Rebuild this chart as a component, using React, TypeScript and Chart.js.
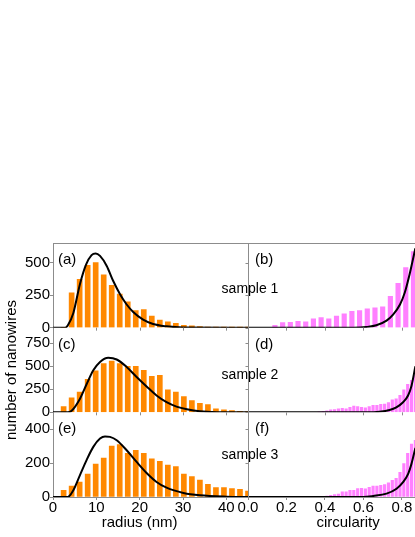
import React, { useEffect, useRef } from 'react';
import { Chart, registerables } from 'chart.js';

Chart.register(...registerables);

// ---------- data ----------
const radiusBins = [2.45, 4.3, 6.15, 8.0, 9.85, 11.7, 13.55, 15.4, 17.25, 19.1, 20.95, 22.8, 24.65, 26.5, 28.35, 30.2, 32.05, 33.9, 35.75, 37.6, 39.45, 41.3, 43.15, 45.0];
const radiusCounts1 = [0, 268, 371, 479, 500, 405, 325, 258, 198, 131, 139, 88, 59, 44, 33, 18, 15, 8, 5, 3, 2, 2, 1, 1];
const radiusCounts2 = [62, 157, 219, 358, 450, 530, 556, 530, 500, 500, 457, 391, 402, 245, 219, 172, 128, 99, 84, 37, 26, 18, 12, 8];
const radiusCounts3 = [40, 65, 88, 135, 195, 230, 300, 310, 258, 275, 258, 225, 210, 188, 180, 135, 120, 100, 75, 55, 55, 50, 45, 35];

const circBins1 = [0.14, 0.18, 0.22, 0.26, 0.3, 0.34, 0.38, 0.42, 0.46, 0.5, 0.54, 0.58, 0.62, 0.66, 0.7, 0.74, 0.78, 0.82, 0.86];
const circCounts1 = [18, 39, 41, 49, 44, 67, 77, 67, 88, 106, 126, 131, 144, 152, 160, 240, 340, 461, 585];

const circBins23 = [0.37, 0.39, 0.41, 0.43, 0.45, 0.47, 0.49, 0.51, 0.53, 0.55, 0.57, 0.59, 0.61, 0.63, 0.65, 0.67, 0.69, 0.71, 0.73, 0.75, 0.77, 0.79, 0.81, 0.83, 0.85, 0.87];
const circCounts2 = [5, 10, 15, 26, 29, 37, 44, 37, 55, 69, 62, 55, 48, 62, 77, 77, 88, 91, 106, 135, 146, 186, 245, 303, 347, 400];
const circCounts3 = [2, 4, 6, 10, 14, 17, 30, 30, 39, 39, 49, 51, 48, 57, 64, 64, 69, 73, 84, 98, 110, 145, 197, 258, 312, 335];

const fitRadius1X = [0, 2.8, 3.5, 4.7, 6.2, 7.6, 8.9, 9.85, 10.85, 12.4, 13.9, 15.5, 17.0, 18.5, 20.8, 23.1, 26.2, 30, 45];
const fitRadius1Y = [0, 0, 23, 113, 332, 482, 557, 570, 551, 474, 358, 255, 178, 121, 62, 28, 10, 1, 0];
const fitRadius2X = [0, 3.4, 4.3, 6.2, 7.8, 9.3, 10.85, 12.75, 14.7, 17.0, 19.3, 21.6, 23.9, 26.2, 28.5, 30.9, 33.9, 37.8, 45];
const fitRadius2Y = [0, 0, 18, 146, 311, 457, 548, 592, 574, 493, 384, 281, 183, 110, 62, 33, 11, 2, 0];
const fitRadius3X = [0, 3.4, 4.7, 6.2, 7.8, 9.3, 10.85, 12.0, 13.15, 14.7, 17.0, 19.3, 21.6, 23.9, 26.2, 30.1, 33.9, 40.1, 45];
const fitRadius3Y = [0, 0, 40, 128, 221, 296, 345, 358, 355, 335, 276, 207, 142, 89, 55, 24, 10, 2, 0];

const fitCirc1X = [0, 0.55, 0.614, 0.667, 0.72, 0.754, 0.79, 0.815, 0.84, 0.87];
const fitCirc1Y = [0, 0, 5, 18, 54, 100, 178, 270, 410, 610];
const fitCirc2X = [0, 0.62, 0.684, 0.736, 0.771, 0.806, 0.832, 0.85, 0.87];
const fitCirc2Y = [0, 0, 7, 26, 55, 110, 183, 290, 500];
const fitCirc3X = [0, 0.6, 0.651, 0.72, 0.772, 0.807, 0.833, 0.85, 0.87];
const fitCirc3Y = [0, 0, 6, 20, 49, 89, 138, 197, 290];

const panelLabels = ['(a)', '(b)', '(c)', '(d)', '(e)', '(f)'];
const sampleLabels = ['sample 1', 'sample 2', 'sample 3'];
const xTitles = ['radius (nm)', 'circularity'];
const yTitle = 'number of nanowires';

// ---------- styles ----------
const AXIS = '#8c8c8c';
const ORANGE = '#ff8800';
const PINK = '#ff80ff';
const FONT = "'Liberation Sans', Arial, sans-serif";

const pts = (xs: number[], ys: number[]) => xs.map((x, i) => ({ x, y: ys[i] }));

const bars = (xs: number[], ys: number[], xAxisID: string, yAxisID: string, color: string, thickness: number) => ({
  type: 'bar' as const,
  data: pts(xs, ys),
  xAxisID,
  yAxisID,
  backgroundColor: color,
  borderWidth: 0,
  barThickness: thickness,
  grouped: false,
  order: 2,
});

const curve = (xs: number[], ys: number[], xAxisID: string, yAxisID: string) => ({
  type: 'line' as const,
  data: pts(xs, ys),
  xAxisID,
  yAxisID,
  borderColor: '#000',
  borderWidth: 2,
  pointRadius: 0,
  fill: false,
  cubicInterpolationMode: 'monotone' as const,
  order: 1,
});

const zeroPadding = (s: any) => {
  s.paddingLeft = 0;
  s.paddingRight = 0;
  s.paddingTop = 0;
  s.paddingBottom = 0;
};

const yScale = (max: number, step: number, weight: number, title?: string) => ({
  type: 'linear' as const,
  position: 'left' as const,
  stack: 'rows',
  stackWeight: 1,
  weight,
  offset: false,
  min: 0,
  max,
  ticks: {
    stepSize: step,
    includeBounds: false,
    autoSkip: false,
    color: '#000',
    padding: 0,
    font: { family: FONT, size: 15, lineHeight: 1 },
  },
  grid: { drawOnChartArea: false, drawTicks: true, tickLength: 3, color: AXIS, offset: false },
  border: { display: true, color: AXIS },
  title: {
    display: !!title,
    text: title || '',
    color: '#000',
    font: { family: FONT, size: 15 },
    padding: { top: 3, bottom: 0 },
  },
  afterFit: (s: any) => {
    s.width = 53;
    zeroPadding(s);
  },
});

const xScale = (max: number, step: number, weight: number, fmt?: (v: number) => string) => ({
  type: 'linear' as const,
  position: 'bottom' as const,
  stack: 'cols',
  stackWeight: weight,
  offset: false,
  min: 0,
  max,
  ticks: {
    stepSize: step,
    includeBounds: false,
    autoSkip: false,
    maxRotation: 0,
    color: '#000',
    padding: 0,
    font: { family: FONT, size: 15, lineHeight: 1 },
    callback: fmt ? (v: any) => fmt(Number(v)) : (v: any) => String(v),
  },
  grid: { drawOnChartArea: false, drawTicks: true, tickLength: 3, color: AXIS, offset: false },
  border: { display: true, color: AXIS },
  afterFit: (s: any) => {
    s.height = 40;
    zeroPadding(s);
  },
});

const framePlugin = {
  id: 'frame',
  afterDatasetsDraw(chart: any) {
    const { ctx, chartArea, scales } = chart;
    const xl = scales.xl;
    const xr = scales.xr;
    const rows = [scales.y1, scales.y2, scales.y3];
    ctx.save();
    ctx.strokeStyle = AXIS;
    ctx.lineWidth = 1;
    ctx.beginPath();
    const ty = Math.round(chartArea.top) + 0.5;
    ctx.moveTo(chartArea.left, ty);
    ctx.lineTo(chartArea.right, ty);
    const dx = Math.round(xr.left) + 0.5;
    ctx.moveTo(dx, chartArea.top);
    ctx.lineTo(dx, chartArea.bottom);
    rows.forEach((ys: any) => {
      ys.ticks.forEach((t: any) => {
        const y = Math.round(ys.getPixelForValue(t.value)) + 0.5;
        ctx.moveTo(dx - 3, y);
        ctx.lineTo(dx, y);
      });
    });
    [scales.y1, scales.y2].forEach((ys: any) => {
      const yb = ys.bottom;
      [xl, xr].forEach((xs: any) => {
        xs.ticks.forEach((t: any) => {
          const x = Math.round(xs.getPixelForValue(t.value)) + 0.5;
          ctx.moveTo(x, yb);
          ctx.lineTo(x, yb + 3);
        });
      });
    });
    ctx.stroke();
    ctx.restore();
  },
  afterDraw(chart: any) {
    const { ctx, scales } = chart;
    const xl = scales.xl;
    const xr = scales.xr;
    const rows = [scales.y1, scales.y2, scales.y3];
    const sampleOffsets = [46, 47, 43];
    ctx.save();
    ctx.fillStyle = '#000';
    ctx.textBaseline = 'middle';
    rows.forEach((ys: any, i: number) => {
      ctx.font = `15px ${FONT}`;
      ctx.textAlign = 'left';
      ctx.fillText(panelLabels[2 * i], xl.left + 5, ys.top + 17);
      ctx.fillText(panelLabels[2 * i + 1], xr.left + 7, ys.top + 17);
      ctx.font = `14px ${FONT}`;
      ctx.textAlign = 'center';
      ctx.fillText(sampleLabels[i], xr.left + 2, ys.top + sampleOffsets[i]);
    });
    ctx.font = `15px ${FONT}`;
    ctx.textAlign = 'center';
    ctx.fillText(xTitles[0], xl.getPixelForValue(20), 523);
    ctx.fillText(xTitles[1], xr.getPixelForValue(0.52), 523);
    ctx.restore();
  },
};

export default function App() {
  const ref = useRef<HTMLCanvasElement>(null);
  useEffect(() => {
    if (!ref.current) return;
    const chart = new Chart(ref.current, {
      type: 'bar',
      data: {
        datasets: [
          curve(fitRadius1X, fitRadius1Y, 'xl', 'y1'),
          curve(fitRadius2X, fitRadius2Y, 'xl', 'y2'),
          curve(fitRadius3X, fitRadius3Y, 'xl', 'y3'),
          curve(fitCirc1X, fitCirc1Y, 'xr', 'y1'),
          curve(fitCirc2X, fitCirc2Y, 'xr', 'y2'),
          curve(fitCirc3X, fitCirc3Y, 'xr', 'y3'),
          bars(radiusBins, radiusCounts1, 'xl', 'y1', ORANGE, 5),
          bars(radiusBins, radiusCounts2, 'xl', 'y2', ORANGE, 5),
          bars(radiusBins, radiusCounts3, 'xl', 'y3', ORANGE, 5),
          bars(circBins1, circCounts1, 'xr', 'y1', PINK, 4.5),
          bars(circBins23, circCounts2, 'xr', 'y2', PINK, 2.5),
          bars(circBins23, circCounts3, 'xr', 'y3', PINK, 2.5),
        ] as any,
      },
      options: {
        animation: false,
        responsive: true,
        maintainAspectRatio: false,
        events: [],
        layout: { padding: { top: 243, left: 0, right: 0, bottom: 0 } },
        plugins: { legend: { display: false }, tooltip: { enabled: false } },
        scales: {
          xl: xScale(45, 10, 195),
          xr: xScale(0.868, 0.2, 167, (v) => v.toFixed(1)),
          y1: yScale(650, 250, 3),
          y2: yScale(920, 250, 2, yTitle),
          y3: yScale(500, 200, 1),
        } as any,
      },
      plugins: [framePlugin],
    });
    return () => chart.destroy();
  }, []);
  return (
    <div style={{ position: 'absolute', left: 0, top: 0, width: 415, height: 537, background: '#fff', overflow: 'hidden' }}>
      <canvas ref={ref} />
    </div>
  );
}
